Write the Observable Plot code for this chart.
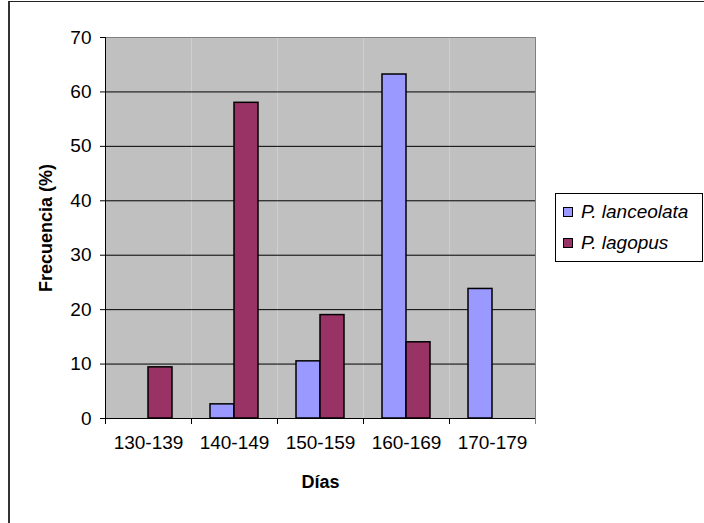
<!DOCTYPE html>
<html>
<head>
<meta charset="utf-8">
<script src="https://cdn.jsdelivr.net/npm/d3@7"></script>
<script src="https://cdn.jsdelivr.net/npm/@observablehq/plot@0.6"></script>
<style>
html, body { margin: 0; padding: 0; background: #fff; overflow: hidden; }
#wrap { position: relative; width: 704px; height: 523px; font-family: "Liberation Sans", Arial, sans-serif; }
#chart svg { display: block; }
#border { position: absolute; left: 8px; top: 1px; width: 740px; height: 560px; border-top: 1px solid #222; border-left: 2px solid #333; pointer-events: none; }
#legend { position: absolute; left: 555px; top: 193px; width: 148px; height: 69px; border: 1px solid #000; box-sizing: border-box; background: #fff; }
.item { position: absolute; left: 7px; height: 22px; display: flex; align-items: center; font-style: italic; font-size: 19px; color: #000; white-space: nowrap; }
.sw { width: 8px; height: 8px; border: 1px solid #000; margin-right: 8px; }
g[aria-label="y-axis label"], g[aria-label="fx-axis label"] { font-weight: bold; font-size: 18px; }
</style>
</head>
<body>
<div id="wrap">
  <div id="chart"></div>
  <div id="legend"></div>
  <div id="border"></div>
</div>
<script>
const categories = ["130-139", "140-149", "150-159", "160-169", "170-179"];
const series = ["P. lanceolata", "P. lagopus"];
const lanceolata = [null, 2.6, 10.5, 63.2, 23.8];
const lagopus = [9.4, 58, 19, 14, null];
const yTicks = [0, 10, 20, 30, 40, 50, 60, 70];
const gridTicks = [10, 20, 30, 40, 50, 60];
const colors = ["#9999FF", "#993366"];

const rows = [];
categories.forEach((c, i) => {
  [lanceolata, lagopus].forEach((arr, j) => {
    if (arr[i] != null) rows.push({cat: c, series: series[j], value: arr[i]});
  });
});

const W = 704, H = 523, mT = 37, mB = 105, mL = 104, mR = 168;
const plotH = H - mT - mB;
const first = categories[0], last = categories[categories.length - 1];

const chart = Plot.plot({
  width: W, height: H,
  marginTop: mT, marginBottom: mB, marginLeft: mL, marginRight: mR,
  style: {fontFamily: "'Liberation Sans', Arial, sans-serif", fontSize: "19px", background: "transparent", color: "#000", overflow: "visible"},
  fx: {domain: categories, padding: 0, label: "Días"},
  x: {domain: series, paddingInner: 0, paddingOuter: 0.727, axis: null},
  y: {domain: [0, 70], label: "Frecuencia (%)"},
  color: {domain: series, range: colors},
  marks: [
    Plot.frame({fill: "#C0C0C0", stroke: "none"}),
    Plot.ruleY(gridTicks, {stroke: "#000", strokeWidth: 1}),
    Plot.frame({anchor: "top", stroke: "#808080"}),
    Plot.frame({anchor: "right", stroke: "#808080", fx: last}),
    Plot.barY(rows, {fx: "cat", x: "series", y: "value", fill: "series", stroke: "#000", strokeWidth: 1.5, inset: 0}),
    Plot.ruleY([0], {stroke: "#000"}),
    Plot.frame({anchor: "left", stroke: "#000", fx: first}),
    Plot.frame({anchor: "left", stroke: "#000", insetTop: plotH, insetBottom: -5}),
    Plot.frame({anchor: "right", stroke: "#808080", insetTop: plotH, insetBottom: -5, fx: last}),
    Plot.axisY({ticks: yTicks, tickSize: 5, tickPadding: 9, tickFormat: d => String(d), label: "Frecuencia (%)", labelAnchor: "center", labelOffset: 66, labelArrow: "none"}),
    Plot.axisFx({anchor: "bottom", tickSize: 0, tickPadding: 17, label: "Días", labelAnchor: "center", labelOffset: 69, labelArrow: "none"})
  ]
});
document.getElementById("chart").appendChild(chart);

const legend = document.getElementById("legend");
series.forEach((s, j) => {
  const it = document.createElement("div");
  it.className = "item";
  it.style.top = (7 + j * 31) + "px";
  const sw = document.createElement("span");
  sw.className = "sw";
  sw.style.background = colors[j];
  const tx = document.createElement("span");
  tx.textContent = s;
  it.appendChild(sw);
  it.appendChild(tx);
  legend.appendChild(it);
});
</script>
</body>
</html>
